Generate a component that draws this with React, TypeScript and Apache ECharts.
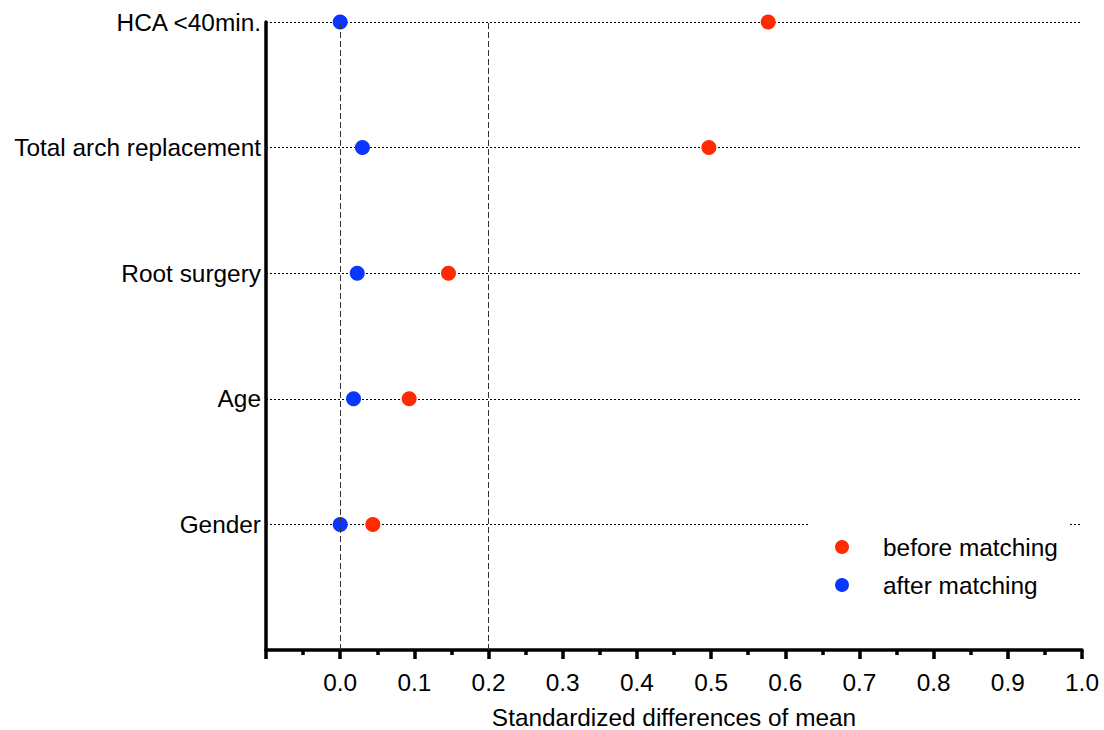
import React, { useEffect, useRef } from "react";
import * as echarts from "echarts";

const categories = ["Gender", "Age", "Root surgery", "Total arch replacement", "HCA <40min."];
const beforeMatching = [0.044, 0.093, 0.146, 0.497, 0.577];
const afterMatching = [0.0, 0.018, 0.023, 0.03, 0.0];
const referenceLines = [0, 0.2];
const xTitle = "Standardized differences of mean";

const FONT = "Liberation Sans, Arial, sans-serif";
const FS = 24.4;

export default function App() {
  const ref = useRef<HTMLDivElement>(null);
  useEffect(() => {
    if (!ref.current) return;
    const chart = echarts.init(ref.current, null, { renderer: "svg" });
    chart.setOption({
      animation: false,
      backgroundColor: "#ffffff",
      textStyle: { fontFamily: FONT },
      grid: { left: 266, right: 22, top: 22, bottom: 80, containLabel: false, outerBoundsMode: "none" },
      legend: {
        orient: "vertical",
        left: 808,
        top: 523,
        padding: [12, 11, 10, 27],
        backgroundColor: "#ffffff",
        icon: "circle",
        itemWidth: 14,
        itemHeight: 14,
        itemGap: 14,
        data: ["before matching", "after matching"],
        textStyle: {
          fontFamily: FONT,
          fontSize: FS,
          color: "#000",
          lineHeight: 24,
          padding: [0, 0, 0, 29],
        },
        z: 10,
      },
      xAxis: {
        type: "value",
        min: -0.1,
        max: 1.0,
        interval: 0.1,
        name: xTitle,
        nameLocation: "middle",
        nameGap: 55,
        nameTextStyle: { fontFamily: FONT, fontSize: FS, color: "#000" },
        axisLine: { show: true, onZero: false, lineStyle: { color: "#000", width: 3.5 } },
        axisTick: { show: true, length: 9, lineStyle: { color: "#000", width: 3.5 } },
        minorTick: { show: true, splitNumber: 2, length: 5, lineStyle: { color: "#000", width: 3.5 } },
        axisLabel: {
          fontFamily: FONT,
          fontSize: FS,
          color: "#000",
          margin: 20,
          formatter: (v: number) => (v < -0.05 ? "" : v.toFixed(1)),
        },
        splitLine: { show: false },
        minorSplitLine: { show: false },
      },
      yAxis: {
        type: "value",
        min: 0,
        max: 5,
        interval: 1,
        axisLine: { show: true, onZero: false, lineStyle: { color: "#000", width: 3.5 } },
        axisTick: { show: false },
        axisLabel: {
          fontFamily: FONT,
          fontSize: FS,
          color: "#000",
          margin: 5,
          formatter: (v: number) => (v >= 1 && v <= categories.length ? categories[v - 1] : ""),
        },
        splitLine: { show: true, lineStyle: { color: "#000", width: 1, type: [2, 2] } },
      },
      series: [
        {
          name: "refs",
          type: "scatter",
          data: [],
          z: 1,
          markLine: {
            silent: true,
            symbol: "none",
            label: { show: false },
            lineStyle: { color: "#333", width: 1, type: [6, 3] },
            data: referenceLines.map((v) => ({ xAxis: v })),
          },
        },
        {
          name: "before matching",
          type: "scatter",
          symbol: "circle",
          symbolSize: 15,
          itemStyle: { color: "#ff2a00", opacity: 1 },
          z: 3,
          data: beforeMatching.map((v, i) => [v, i + 1]),
        },
        {
          name: "after matching",
          type: "scatter",
          symbol: "circle",
          symbolSize: 15,
          itemStyle: { color: "#0a36ff", opacity: 1 },
          z: 4,
          data: afterMatching.map((v, i) => [v, i + 1]),
        },
      ],
    });
    return () => chart.dispose();
  }, []);
  return (
    <div
      ref={ref}
      style={{ position: "fixed", left: 0, top: 0, width: 1104, height: 730 }}
    />
  );
}
